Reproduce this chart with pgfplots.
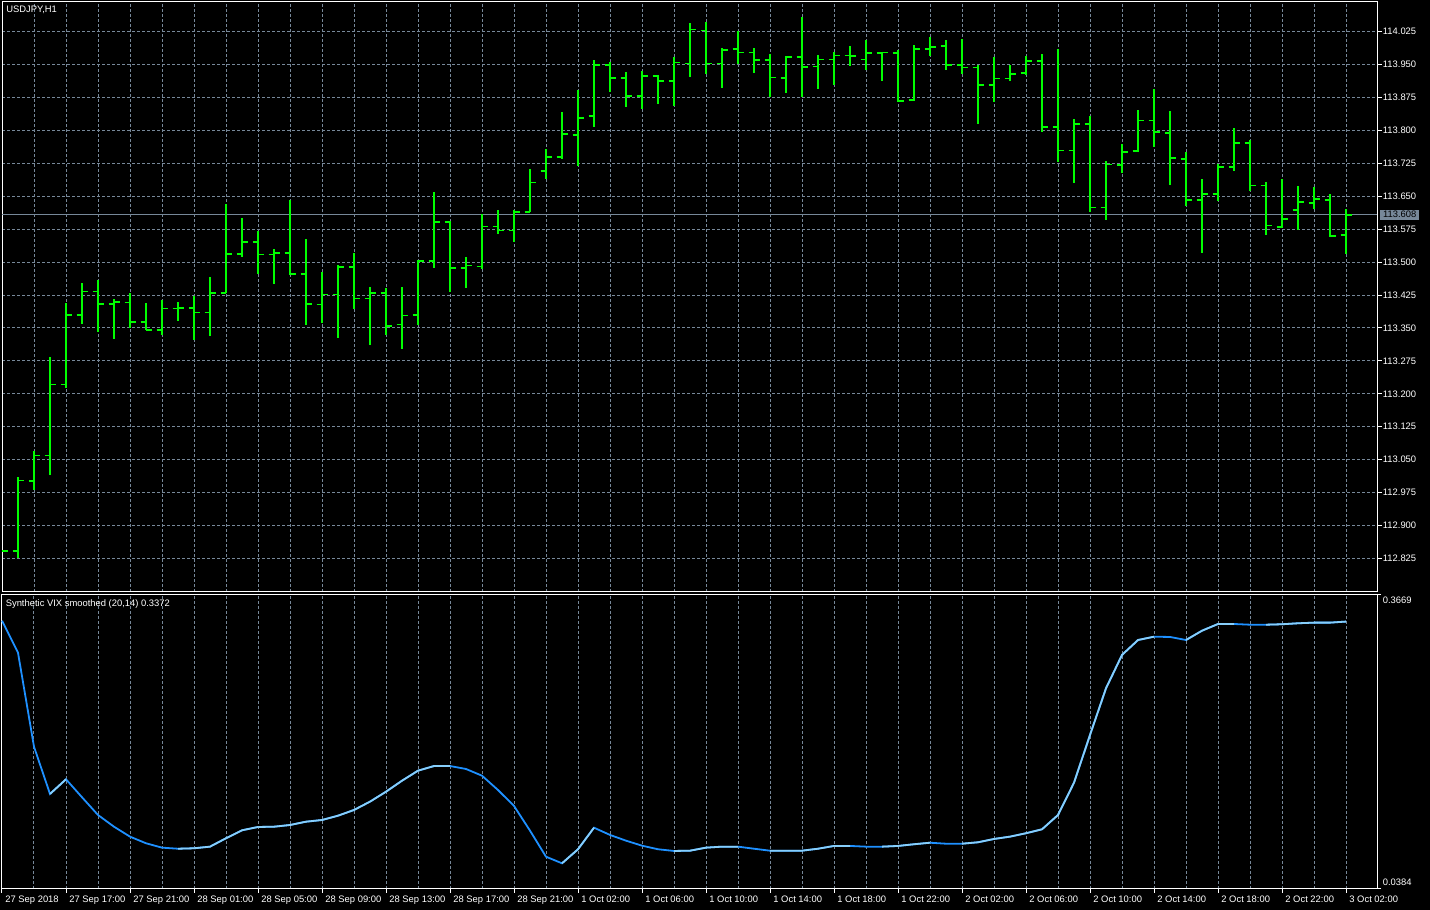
\documentclass[border=0pt]{standalone}
\usepackage{pgfplots}
\pgfplotsset{compat=1.18}
\usepackage{pgfplotstable}
\usepackage{fontspec}
\setmainfont{Liberation Sans}
\definecolor{bargreen}{RGB}{0,255,0}
\definecolor{gridc}{RGB}{119,136,153}
\definecolor{vixdark}{RGB}{30,144,255}
\definecolor{vixlight}{RGB}{135,206,250}
\newcommand\mtfont{\fontsize{4.7pt}{5.5pt}\selectfont}
\pgfdeclareplotmark{ohlcopen}{\pgfpathmoveto{\pgfqpoint{-2.75pt}{0pt}}\pgfpathlineto{\pgfqpoint{0pt}{0pt}}\pgfusepathqstroke}
\pgfdeclareplotmark{ohlcclose}{\pgfpathmoveto{\pgfqpoint{0pt}{0pt}}\pgfpathlineto{\pgfqpoint{2.75pt}{0pt}}\pgfusepathqstroke}

\pgfplotstableread{
x o h l c
0 nan 112.842 112.842 112.842
1 112.842 113.010 112.827 113.002
2 113.001 113.070 112.982 113.059
3 113.059 113.286 113.017 113.221
4 113.221 113.407 113.215 113.380
5 113.380 113.452 113.358 113.433
6 113.433 113.461 113.342 113.405
7 113.405 113.418 113.326 113.409
8 113.408 113.429 113.351 113.364
9 113.364 113.407 113.345 113.345
10 113.345 113.416 113.335 113.394
11 113.394 113.409 113.366 113.396
12 113.396 113.423 113.323 113.385
13 113.385 113.467 113.333 113.430
14 113.430 113.632 113.429 113.519
15 113.519 113.600 113.512 113.546
16 113.546 113.573 113.473 113.517
17 113.517 113.532 113.451 113.521
18 113.521 113.641 113.472 113.473
19 113.473 113.555 113.358 113.405
20 113.403 113.477 113.362 113.426
21 113.426 113.495 113.328 113.489
22 113.489 113.520 113.394 113.417
23 113.417 113.443 113.312 113.430
24 113.430 113.443 113.335 113.355
25 113.358 113.445 113.303 113.378
26 113.380 113.506 113.357 113.503
27 113.503 113.661 113.487 113.591
28 113.591 113.595 113.432 113.486
29 113.486 113.512 113.442 113.492
30 113.490 113.610 113.484 113.581
31 113.581 113.619 113.563 113.572
32 113.572 113.619 113.545 113.614
33 113.614 113.712 113.614 113.681
34 113.708 113.758 113.690 113.740
35 113.740 113.842 113.736 113.792
36 113.790 113.892 113.719 113.829
37 113.833 113.960 113.808 113.949
38 113.949 113.958 113.888 113.920
39 113.920 113.935 113.854 113.879
40 113.879 113.935 113.849 113.924
41 113.924 113.928 113.861 113.913
42 113.912 113.968 113.857 113.955
43 113.953 114.045 113.923 114.030
44 114.028 114.048 113.930 113.953
45 113.953 113.989 113.898 113.983
46 113.985 114.027 113.952 113.978
47 113.978 113.989 113.933 113.960
48 113.960 113.975 113.876 113.921
49 113.919 113.970 113.885 113.967
50 113.967 114.060 113.878 113.944
51 113.946 113.973 113.894 113.962
52 113.962 113.980 113.905 113.971
53 113.971 113.993 113.948 113.969
54 113.962 114.007 113.939 113.976
55 113.976 113.978 113.912 113.978
56 113.977 113.984 113.866 113.867
57 113.869 113.995 113.867 113.985
58 113.985 114.014 113.970 113.990
59 113.992 114.007 113.939 113.949
60 113.949 114.009 113.929 113.943
61 113.943 113.950 113.817 113.904
62 113.904 113.968 113.867 113.918
63 113.918 113.951 113.914 113.929
64 113.931 113.971 113.927 113.958
65 113.958 113.976 113.797 113.808
66 113.808 113.985 113.729 113.754
67 113.754 113.826 113.681 113.815
68 113.815 113.835 113.615 113.624
69 113.624 113.730 113.597 113.722
70 113.721 113.770 113.703 113.751
71 113.753 113.848 113.751 113.823
72 113.823 113.893 113.762 113.796
73 113.794 113.845 113.678 113.737
74 113.735 113.752 113.628 113.642
75 113.642 113.691 113.521 113.655
76 113.655 113.723 113.639 113.717
77 113.717 113.807 113.710 113.771
78 113.771 113.780 113.662 113.675
79 113.675 113.684 113.562 113.583
80 113.580 113.691 113.578 113.598
81 113.619 113.675 113.574 113.637
82 113.635 113.673 113.621 113.644
83 113.642 113.657 113.558 113.560
84 113.562 113.623 113.519 113.608
}\ohlc

\pgfplotstableread{
x v u
0 0.3382 nan
1 0.3024 nan
2 0.1974 nan
3 0.1446 0.1446
4 0.1610 0.1610
5 0.1409 nan
6 0.1211 nan
7 0.1080 nan
8 0.0969 nan
9 0.0895 nan
10 0.0846 nan
11 0.0834 0.0834
12 0.0839 0.0839
13 0.0857 0.0857
14 0.0951 0.0951
15 0.1040 0.1040
16 0.1077 0.1077
17 0.1080 0.1080
18 0.1099 0.1099
19 0.1136 0.1136
20 0.1155 0.1155
21 0.1203 0.1203
22 0.1267 0.1267
23 0.1360 0.1360
24 0.1471 0.1471
25 0.1594 0.1594
26 0.1706 0.1706
27 0.1758 0.1758
28 0.1758 0.1758
29 0.1725 nan
30 0.1650 nan
31 0.1490 nan
32 0.1312 nan
33 0.1036 nan
34 0.0745 nan
35 0.0671 0.0671
36 0.0828 0.0828
37 0.1069 0.1069
38 0.0988 nan
39 0.0924 nan
40 0.0868 nan
41 0.0828 nan
42 0.0809 0.0809
43 0.0812 0.0812
44 0.0846 0.0846
45 0.0857 0.0857
46 0.0857 0.0857
47 0.0834 nan
48 0.0812 0.0812
49 0.0812 0.0812
50 0.0812 0.0812
51 0.0834 0.0834
52 0.0865 0.0865
53 0.0865 0.0865
54 0.0857 nan
55 0.0857 0.0857
56 0.0865 0.0865
57 0.0884 0.0884
58 0.0901 0.0901
59 0.0890 nan
60 0.0890 0.0890
61 0.0906 0.0906
62 0.0943 0.0943
63 0.0969 0.0969
64 0.1007 0.1007
65 0.1051 0.1051
66 0.1211 0.1211
67 0.1572 0.1572
68 0.2105 0.2105
69 0.2627 0.2627
70 0.2999 0.2999
71 0.3166 0.3166
72 0.3203 0.3203
73 0.3200 nan
74 0.3166 0.3166
75 0.3270 0.3270
76 0.3345 0.3345
77 0.3345 0.3345
78 0.3337 nan
79 0.3337 0.3337
80 0.3342 0.3342
81 0.3353 0.3353
82 0.3360 0.3360
83 0.3360 0.3360
84 0.3372 0.3372
}\vix

\pgfplotsset{mtaxis/.style={
  scale only axis, width=687.5pt,
  xmin=0, xmax=85.9375,
  axis background/.style={fill=black},
  axis line style={white, line width=0.5pt},
  grid style={gridc, line width=0.5pt, dash pattern=on 1.5pt off 1pt},
  minor grid style={gridc, line width=0.5pt, dash pattern=on 1.5pt off 1pt},
  tick align=outside,
  tick style={white, line width=0.5pt},
  major tick length=2.25pt, minor tick length=0pt,
  xtick={0,4,...,84}, minor xtick={2,6,...,82},
  xmajorgrids, xminorgrids,
  ytick pos=right, yticklabel pos=right,
  every tick label/.append style={text=white, font=\mtfont},
  clip=false,
}}

\begin{document}
\begin{tikzpicture}
\fill[black] (0pt,0pt) rectangle (715pt,455pt);
\begin{axis}[mtaxis, at={(1pt,159pt)}, anchor=south west, height=295pt,
  ymin=112.7484, ymax=114.0927,
  ytick={112.825,112.9,112.975,113.05,113.125,113.2,113.275,113.35,113.425,113.5,113.575,113.65,113.725,113.8,113.875,113.95,114.025},
  ymajorgrids,
  xticklabels={}, xtick style={draw=none},
  yticklabel style={/pgf/number format/.cd, fixed, fixed zerofill, precision=3, assume math mode=true, /tikz/.cd, anchor=west, inner sep=0pt, xshift=0.5pt},
]
\addplot[gridc, line width=0.5pt, mark=none] coordinates {(0,113.608) (85.9375,113.608)};
\addplot[draw=none, mark=none,
  error bars/.cd, y dir=both, y explicit, error mark=none,
  error bar style={draw=bargreen, solid, line width=0.8pt}]
  table[x=x, y expr={(\thisrow{h}+\thisrow{l})/2}, y error expr={(\thisrow{h}-\thisrow{l})/2}] {\ohlc};
\addplot[only marks, mark=ohlcopen, mark options={bargreen, line width=0.8pt}] table[x=x, y=o] {\ohlc};
\addplot[only marks, mark=ohlcclose, mark options={bargreen, line width=0.8pt}] table[x=x, y=c] {\ohlc};
\node[anchor=west, fill=gridc, text=black, inner xsep=1.3pt, inner ysep=0.9pt, font=\mtfont] at (axis cs:85.9375,113.608) [xshift=1.5pt] {113.608};
\node[anchor=north west, inner sep=0pt, text=white, font=\mtfont] at (rel axis cs:0,1) [xshift=2pt, yshift=-2pt] {USDJPY,H1};
\end{axis}
\begin{axis}[mtaxis, at={(1pt,10.5pt)}, anchor=south west, height=147pt,
  ymin=0.0384, ymax=0.3669,
  ytick={0.0384,0.3669}, yticklabels={},
  xtick pos=bottom, major tick length=2pt,
  xticklabels={27 Sep 2018, 27 Sep 17:00, 27 Sep 21:00, 28 Sep 01:00, 28 Sep 05:00, 28 Sep 09:00, 28 Sep 13:00, 28 Sep 17:00, 28 Sep 21:00, 1 Oct 02:00, 1 Oct 06:00, 1 Oct 10:00, 1 Oct 14:00, 1 Oct 18:00, 1 Oct 22:00, 2 Oct 02:00, 2 Oct 06:00, 2 Oct 10:00, 2 Oct 14:00, 2 Oct 18:00, 2 Oct 22:00, 3 Oct 02:00},
  xticklabel style={anchor=north west, inner sep=0pt, xshift=1.5pt, yshift=-1.5pt},
]
\addplot[vixdark, line width=0.9pt, mark=none] table[x=x, y=v] {\vix};
\addplot[vixlight, line width=0.9pt, mark=none, unbounded coords=jump] table[x=x, y=u] {\vix};
\node[anchor=north west, inner sep=0pt, text=white, font=\mtfont] at (rel axis cs:0,1) [xshift=1.7pt, yshift=-2.3pt] {Synthetic VIX smoothed (20,14) 0.3372};
\node[anchor=north west, inner sep=0pt, text=white, font=\mtfont] at (rel axis cs:1,1) [xshift=2.7pt, yshift=-1pt] {0.3669};
\node[anchor=south west, inner sep=0pt, text=white, font=\mtfont] at (rel axis cs:1,0) [xshift=2.7pt, yshift=1.5pt] {0.0384};
\end{axis}
\pgfresetboundingbox
\path (0pt,0pt) rectangle (715pt,455pt);
\end{tikzpicture}
\end{document}
